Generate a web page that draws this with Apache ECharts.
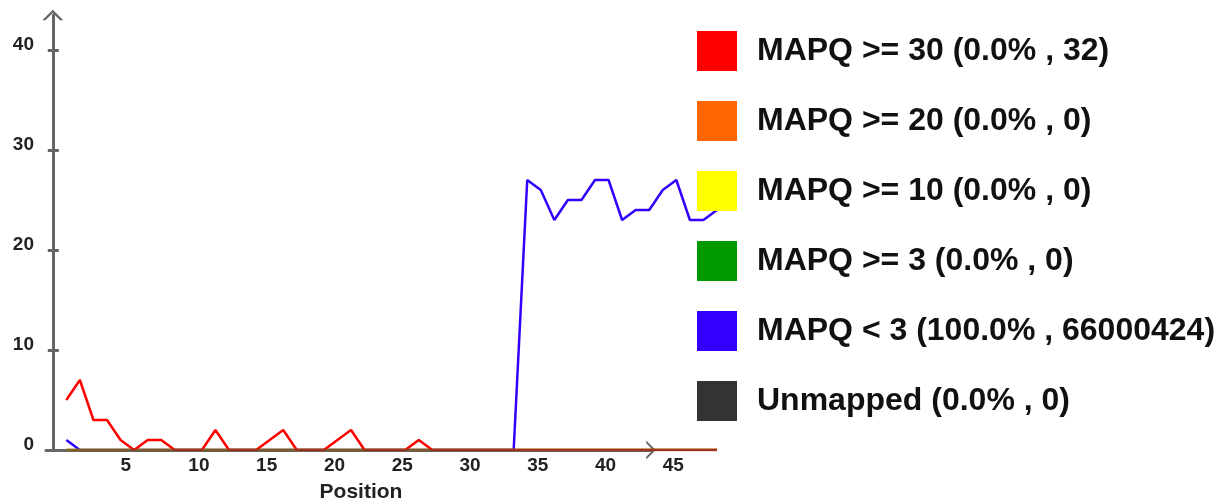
<!DOCTYPE html>
<html><head><meta charset="utf-8">
<script src="https://cdn.jsdelivr.net/npm/echarts@6/dist/echarts.min.js"></script>
<style>html,body{margin:0;padding:0;background:#fff}#c{width:1218px;height:502px}</style>
</head><body><div id="c"></div>
<script>
// ---- data ----
const positions = [1,2,3,4,5,6,7,8,9,10,11,12,13,14,15,16,17,18,19,20,21,22,23,24,25,26,27,28,29,30,31,32,33,34,35,36,37,38,39,40,41,42,43,44,45,46,47,48,49];
const mapq30   = [5,7,3,3,1,0,1,1,0,0,0,2,0,0,0,1,2,0,0,0,1,2,0,0,0,0,1,0,0,0,0,0,0,0,0,0,0,0,0,0,0,0,0,0,0,0,0,0,0];
const mapq20   = [0,0,0,0,0,0,0,0,0,0,0,0,0,0,0,0,0,0,0,0,0,0,0,0,0,0,0,0,0,0,0,0,0,0,0,0,0,0,0,0,0,0,0,0,0,0,0,0,0];
const mapq10   = [0,0,0,0,0,0,0,0,0,0,0,0,0,0,0,0,0,0,0,0,0,0,0,0,0,0,0,0,0,0,0,0,0,0,0,0,0,0,0,0,0,0,0,0,0,0,0,0,0];
const mapq3    = [0,0,0,0,0,0,0,0,0,0,0,0,0,0,0,0,0,0,0,0,0,0,0,0,0,0,0,0,0,0,0,0,0,0,0,0,0,0,0,0,0,0,0,0,0,0,0,0,0];
const mapqLt3  = [1,0,0,0,0,0,0,0,0,0,0,0,0,0,0,0,0,0,0,0,0,0,0,0,0,0,0,0,0,0,0,0,0,0,27,26,23,25,25,27,27,23,24,24,26,27,23,23,24];
const unmapped = [0,0,0,0,0,0,0,0,0,0,0,0,0,0,0,0,0,0,0,0,0,0,0,0,0,0,0,0,0,0,0,0,0,0,0,0,0,0,0,0,0,0,0,0,0,0,0,0,0];
const legendNames = ['MAPQ >= 30 (0.0% , 32)','MAPQ >= 20 (0.0% , 0)','MAPQ >= 10 (0.0% , 0)','MAPQ >= 3 (0.0% , 0)','MAPQ < 3 (100.0% , 66000424)','Unmapped (0.0% , 0)'];
const xTickValues = [5,10,15,20,25,30,35,40,45];
const yTickValues = [0,10,20,30,40];
const xAxisName = 'Position';

// ---- chart ----
const FONT = "'Liberation Sans', Arial, sans-serif";
const chevron = 'path://M0,10 L10,0 L20,10 L17,10 L10,3 L3,10 Z';
const axisGray = '#666';
function mk(name, vals, color, opacity, width) {
  return {
    type: 'line', name: name, xAxisIndex: 0, yAxisIndex: 0,
    data: positions.map((p, i) => [p, vals[i]]),
    symbol: 'none', showSymbol: false,
    lineStyle: { color: color, width: width, opacity: opacity },
    itemStyle: { color: color },
    emphasis: { disabled: true }, silent: true
  };
}
const chart = echarts.init(document.getElementById('c'), null, { renderer: 'canvas' });
chart.setOption({
  animation: false,
  backgroundColor: '#fff',
  grid: [
    { left: 46, right: 501, top: 15, bottom: 52, containLabel: false, outerBoundsMode: 'none' },
    { left: 46, right: 567, top: 15, bottom: 52, containLabel: false, outerBoundsMode: 'none' }
  ],
  xAxis: [
    { gridIndex: 0, type: 'value', min: -0.5, max: 49,
      axisLine: { show: false }, axisTick: { show: false }, splitLine: { show: false },
      axisLabel: { customValues: xTickValues, align: 'left', margin: 9, fontSize: 19, fontWeight: 'bold', color: '#222', fontFamily: FONT, lineHeight: 14 },
      name: xAxisName, nameLocation: 'middle', nameGap: 32,
      nameTextStyle: { fontSize: 21, fontWeight: 'bold', color: '#222', fontFamily: FONT, lineHeight: 20, padding: [0, 41, 0, 0] } },
    { gridIndex: 1, type: 'value', min: -0.5, max: 44,
      axisLine: { show: true, symbol: ['none', chevron], symbolSize: [19, 11], lineStyle: { color: axisGray, width: 3 } },
      axisTick: { show: false }, axisLabel: { show: false }, splitLine: { show: false } }
  ],
  yAxis: [
    { gridIndex: 0, type: 'value', min: 0, max: 43.5,
      axisLine: { show: true, symbol: ['none', chevron], symbolSize: [21, 11], lineStyle: { color: axisGray, width: 3 } },
      axisTick: { show: true, length: 5, customValues: yTickValues, lineStyle: { color: axisGray, width: 3 } },
      axisLabel: { customValues: yTickValues, margin: 12, fontSize: 19, fontWeight: 'bold', color: '#222', fontFamily: FONT, verticalAlign: 'bottom', lineHeight: 10 },
      splitLine: { show: false } },
    { gridIndex: 1, type: 'value', min: 0, max: 43.5,
      axisLine: { show: false },
      axisTick: { show: true, inside: true, length: 6, customValues: yTickValues, lineStyle: { color: axisGray, width: 3 } },
      axisLabel: { show: false }, splitLine: { show: false } }
  ],
  legend: {
    orient: 'vertical', left: 692, top: 26, itemWidth: 40, itemHeight: 40, itemGap: 30,
    icon: 'rect', selectedMode: false, data: legendNames,
    textStyle: { fontSize: 32, fontWeight: 'bold', color: '#111', fontFamily: FONT, padding: [0, 0, 0, 15] }
  },
  series: [
    mk(legendNames[4], mapqLt3, '#3300ff', 1, 2.5),
    mk(legendNames[3], mapq3, '#009900', 0.5, 2.5),
    mk(legendNames[2], mapq10, '#ffff00', 0.5, 2.5),
    mk(legendNames[0], mapq30, '#ff0000', 1, 2.5),
    mk(legendNames[1], mapq20, '#ff6600', 0.55, 2.5),
    mk(legendNames[5], unmapped, '#333333', 0.5, 2.5)
  ]
});
</script>
</body></html>
